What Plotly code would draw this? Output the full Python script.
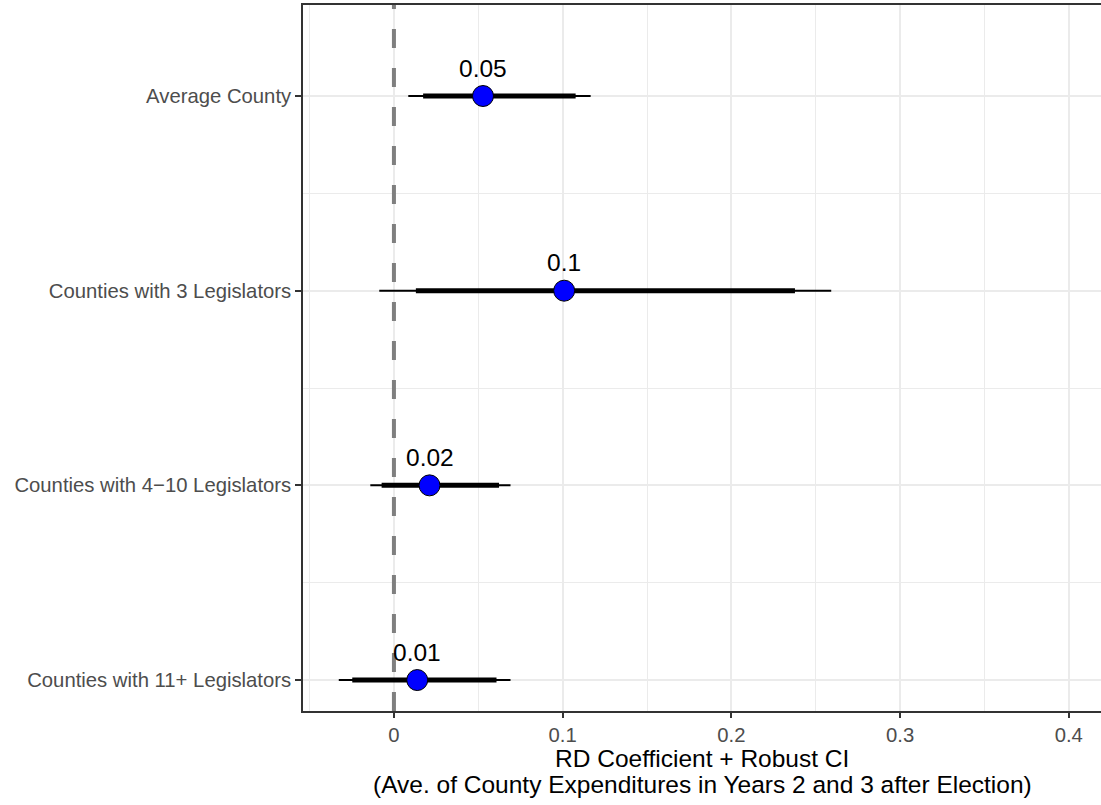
import plotly.graph_objects as go

# Data (top to bottom in the chart)
categories = ["Average County", "Counties with 3 Legislators",
              "Counties with 4\u221210 Legislators", "Counties with 11+ Legislators"]
estimate = [0.0528, 0.1009, 0.0211, 0.0138]
ci_outer_lo = [0.0085, -0.0087, -0.0140, -0.0327]
ci_outer_hi = [0.1166, 0.2592, 0.0691, 0.0691]
ci_inner_lo = [0.0173, 0.0130, -0.0073, -0.0247]
ci_inner_hi = [0.1077, 0.2377, 0.0623, 0.0608]
x_ticks = [0, 0.1, 0.2, 0.3, 0.4]
x_tick_labels = ["0", "0.1", "0.2", "0.3", "0.4"]
x_title_1 = "RD Coefficient + Robust CI"
x_title_2 = "(Ave. of County Expenditures in Years 2 and 3 after Election)"

n = len(categories)
ypos = [n - i for i in range(n)]  # Average County at top
labels = [f"{round(v, 2):g}" for v in estimate]
y_range = [0.841, 4.4675]

FONT = "Liberation Sans, Arial, Helvetica, sans-serif"

def segs(lo, hi):
    xs, ys = [], []
    for a, b, y in zip(lo, hi, ypos):
        xs += [a, b, None]
        ys += [y, y, None]
    return xs, ys

fig = go.Figure()
# reference line at zero
fig.add_trace(go.Scatter(x=[0, 0], y=y_range, mode="lines",
                         line=dict(color="#7F7F7F", width=4, dash="19px,20px"),
                         hoverinfo="skip"))
xo, yo = segs(ci_outer_lo, ci_outer_hi)
fig.add_trace(go.Scatter(x=xo, y=yo, mode="lines",
                         line=dict(color="black", width=2), hoverinfo="skip"))
xi, yi = segs(ci_inner_lo, ci_inner_hi)
fig.add_trace(go.Scatter(x=xi, y=yi, mode="lines",
                         line=dict(color="black", width=5), hoverinfo="skip"))
fig.add_trace(go.Scatter(x=estimate, y=ypos, mode="markers",
                         marker=dict(size=21, color="blue",
                                     line=dict(color="black", width=1))))

for x, y, t in zip(estimate, ypos, labels):
    fig.add_annotation(x=x, y=y, text=t, showarrow=False, yshift=28,
                       xanchor="center", yanchor="middle",
                       font=dict(size=24.5, color="black", family=FONT))

fig.add_annotation(xref="paper", yref="paper", x=0.5, y=0, yshift=-47,
                   text=x_title_1, showarrow=False, xanchor="center", yanchor="middle",
                   font=dict(size=24.5, color="black", family=FONT))
fig.add_annotation(xref="paper", yref="paper", x=0.5, y=0, yshift=-73.5,
                   text=x_title_2, showarrow=False, xanchor="center", yanchor="middle",
                   font=dict(size=24.5, color="black", family=FONT))

fig.update_layout(
    width=1101, height=805,
    margin=dict(l=303, r=0, t=5, b=94),
    plot_bgcolor="white", paper_bgcolor="white",
    showlegend=False,
    font=dict(family=FONT),
    xaxis=dict(
        range=[-0.0539, 0.4191], automargin=False,
        tickvals=x_ticks, ticktext=x_tick_labels,
        showgrid=True, gridcolor="#EBEBEB", gridwidth=1.6,
        minor=dict(tickvals=[-0.05, 0.05, 0.15, 0.25, 0.35], showgrid=True,
                   gridcolor="#EBEBEB", gridwidth=0.8, ticks=""),
        zeroline=False,
        showline=True, linecolor="#333333", linewidth=1.5, mirror=True,
        ticks="outside", ticklen=5, tickwidth=1.5, tickcolor="#333333",
        tickfont=dict(size=20.3, color="#4D4D4D", family=FONT),
    ),
    yaxis=dict(
        range=y_range, automargin=False,
        tickvals=ypos, ticktext=categories,
        showgrid=True, gridcolor="#EBEBEB", gridwidth=1.6,
        minor=dict(tickvals=[1.5, 2.5, 3.5], showgrid=True,
                   gridcolor="#EBEBEB", gridwidth=0.8, ticks=""),
        zeroline=False,
        showline=True, linecolor="#333333", linewidth=1.5, mirror=False,
        ticks="outside", ticklen=6, tickwidth=1.5, tickcolor="#333333",
        tickfont=dict(size=20.3, color="#4D4D4D", family=FONT),
    ),
)

fig.write_html("out.html",
               config={"displayModeBar": False},
               post_script="document.body.style.margin='0';document.body.style.overflow='hidden';")
